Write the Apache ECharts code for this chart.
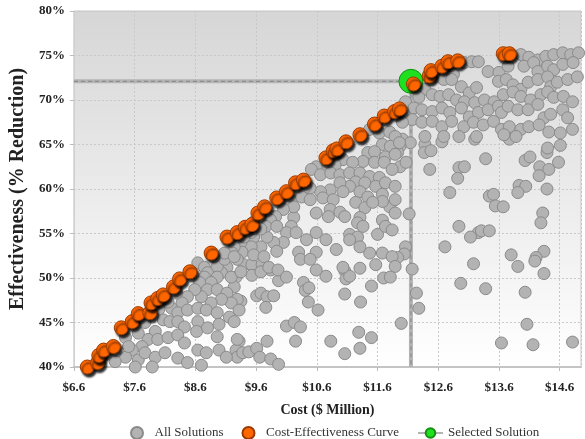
<!DOCTYPE html>
<html>
<head>
<meta charset="utf-8">
<script src="https://cdn.jsdelivr.net/npm/echarts@6/dist/echarts.min.js"></script>
<style>
  html, body { margin: 0; padding: 0; background: #fff; }
  #chart { width: 585px; height: 439px; }
</style>
</head>
<body>
<div id="chart"></div>
<script>
// all candidate solutions: [cost ($M), effectiveness (%)]
const allSolutions = [
  [9.40,51.5],[9.53,51.5],[9.70,51.5],[9.84,50.9],[9.27,50.1],[9.53,50.3],[9.68,50.7],[9.97,49.7],[9.24,49.0],[9.35,47.4],
  [9.61,48.0],[9.68,48.3],[9.78,47.9],[9.89,48.0],[9.76,46.7],[10.38,49.5],[10.41,48.6],[10.47,48.9],[10.46,47.3],[10.62,46.4],
  [10.75,50.2],[11.06,50.8],[11.08,49.9],[11.14,50.2],[11.31,51.1],[11.57,51.5],[11.70,50.0],[11.50,49.1],[11.06,48.2],[11.32,47.3],
  [10.10,44.6],[10.23,45.0],[10.33,44.5],[9.32,42.9],[9.78,42.9],[10.25,42.9],[10.83,42.9],[11.29,43.9],[11.50,43.3],[11.99,44.9],
  [9.27,41.9],[9.29,41.1],[9.38,41.6],[9.48,41.7],[9.61,42.1],[9.66,41.1],[9.84,40.9],[9.97,40.3],[11.06,41.5],[11.31,42.1],
  [12.01,65.6],[12.14,65.2],[11.97,64.8],[12.38,65.0],[12.37,64.1],[12.48,64.3],[12.66,65.3],[13.20,65.6],[13.77,65.6],[11.93,64.1],
  [11.97,62.5],[12.07,63.0],[12.46,62.2],[12.94,62.4],[13.03,62.5],[13.38,63.4],[12.92,61.2],[14.03,63.2],[14.11,63.6],[14.39,64.1],
  [14.58,63.0],[14.27,62.5],[14.42,62.2],[14.26,61.5],[14.61,64.9],[12.79,59.6],[13.44,59.2],[13.51,59.4],[13.93,60.4],[14.04,60.3],
  [13.91,59.6],[14.39,60.0],[13.54,58.1],[13.67,58.0],[12.12,57.2],[14.32,57.3],[14.29,56.2],[12.94,55.8],[13.26,55.1],[13.31,55.3],
  [13.44,55.3],[13.13,54.6],[12.06,53.5],[12.04,52.7],[12.71,53.5],[13.80,52.6],[14.34,53.0],[14.21,52.3],
  [11.93,52.3],[12.17,51.0],[13.18,51.6],[13.91,51.3],[14.19,51.9],[14.34,50.5],[12.97,49.4],[13.38,48.8],[14.03,48.4],[12.24,48.3],
  [12.28,46.6],[14.06,44.8],[13.64,42.7],[14.16,42.5],[14.81,42.8],
  [13.96,75.1],[14.09,74.8],[14.24,74.5],[14.37,74.9],[14.50,75.1],[14.65,75.3],[14.78,75.1],[14.91,75.3],[13.03,74.2],[13.15,74.3],
  [13.26,74.3],[13.42,73.2],[13.60,73.1],[13.75,73.8],[14.01,73.8],[14.17,74.2],[14.24,73.2],[14.40,73.8],[14.50,73.4],[14.65,74.0],
  [14.82,74.2],[12.74,73.2],[12.85,72.9],[12.54,72.6],[12.69,72.3],[12.82,72.3],[12.98,71.5],[13.11,70.8],[13.23,71.4],[13.59,72.1],
  [13.72,72.3],[13.83,71.7],[13.96,71.2],[14.08,72.0],[14.24,72.3],[14.40,72.6],[14.45,71.5],[14.56,72.0],[14.73,72.3],[14.89,72.6],
  [12.38,71.2],[12.28,70.3],[12.50,70.6],[12.63,70.4],[12.77,70.6],[12.90,70.0],[13.03,69.8],[13.20,69.7],[13.36,70.0],[13.52,69.8],
  [13.67,70.6],[13.83,70.9],[13.96,70.4],[14.12,70.0],[14.29,70.6],[14.40,70.9],[14.50,70.3],[14.66,70.4],[14.81,69.8],[12.06,69.8],
  [12.20,69.1],[12.33,68.9],[12.50,68.7],[12.66,69.1],[12.79,68.6],[12.98,69.1],[13.11,68.1],[13.26,68.6],[13.42,68.9],[13.59,69.3],
  [13.64,68.6],[13.75,69.3],[13.91,68.9],[14.08,68.9],[14.24,69.5],[14.34,68.0],[14.45,68.4],[14.65,68.9],[14.73,68.0],[12.17,67.8],
  [12.01,67.5],[12.33,67.5],[12.50,67.6],[12.66,67.0],[12.82,67.6],[13.02,67.0],[13.18,67.5],[13.34,67.2],[13.51,67.6],[13.64,66.7],
  [13.77,67.0],[13.96,66.7],[14.09,67.0],[14.26,67.2],[14.42,66.4],[14.61,66.3],[14.81,66.7],[12.38,65.9],[12.69,65.9],[12.94,65.9],
  [13.23,65.9],[13.68,66.1],[13.88,65.9],[14.40,64.6],
  [11.47,66.7],[11.63,66.3],[11.80,66.4],[11.89,65.9],[11.68,65.0],[11.81,64.8],[11.96,65.2],[11.44,64.1],[11.55,64.2],[11.73,63.6],
  [11.89,63.9],[11.36,63.1],[11.55,63.0],[11.71,63.0],[11.84,62.2],[11.03,63.3],[11.19,63.0],[10.90,62.7],[10.70,62.5],[10.59,62.5],
  [10.51,62.2],[10.66,61.6],[10.83,61.8],[10.98,61.6],[11.14,61.8],[11.31,61.8],[11.47,61.4],[11.63,61.3],[11.24,60.8],[11.39,60.7],
  [11.57,60.3],[11.73,60.7],[11.89,60.3],[11.14,60.3],[10.98,60.7],[10.82,59.9],[10.66,59.7],[10.49,60.1],[10.41,60.2],[10.30,59.7],
  [10.17,59.4],[10.05,58.6],[10.18,58.6],[10.35,59.1],[10.49,58.8],[10.70,59.0],[10.87,58.8],[11.03,59.7],[11.31,59.7],[11.44,59.1],
  [11.68,59.4],[11.80,58.0],[11.68,58.6],[11.89,58.8],[11.24,58.5],[11.39,57.9],[11.52,58.5],[10.82,57.7],[10.98,57.4],[11.06,56.9],
  [10.59,57.3],[10.79,56.9],[11.31,56.8],[11.27,56.2],[11.36,55.8],[11.14,54.9],[11.27,54.6],[11.60,54.9],[11.68,56.5],[11.73,55.8],
  [11.84,55.4],[11.89,57.3],[10.22,56.8],[10.18,55.8],[10.10,55.1],[10.26,55.1],[10.43,54.3],[10.59,55.1],[10.75,54.3],[10.92,53.2],
  [10.59,52.9],[10.30,52.9],[10.33,52.1],[10.05,54.0],[9.89,54.0],[9.94,53.0],[9.78,54.6],[9.68,53.5],[9.56,54.6],[9.52,53.5],
  [9.35,54.0],[9.37,52.9],[9.24,53.5],[9.56,52.6],[9.73,52.4],[9.81,51.2],[9.29,52.1],[9.12,51.2],[9.03,50.6],[9.19,50.1],
  [9.96,50.9],[10.10,50.1],[10.49,52.1],[10.59,50.9],[11.03,51.2],[11.68,52.8],[11.84,52.4],[11.89,51.3],[11.81,50.1],[11.47,52.8],
  [11.31,53.5],[11.14,54.3],[10.22,58.0],[10.05,57.7],[9.92,56.9],[9.84,56.5],[9.76,55.8],[9.68,55.5],[9.52,55.1],[9.40,54.6],
  [9.29,54.9],[9.56,56.3],[9.94,55.8],[8.64,51.7],[8.75,51.2],[8.80,50.6],[8.96,51.3],[9.08,52.1],[9.21,52.8],
  [8.91,52.4],[9.08,52.8],[9.24,52.4],[9.35,50.7],[8.96,50.1],[8.75,50.1],[8.86,49.5],[8.67,49.5],[8.80,48.7],[8.96,48.7],
  [9.12,48.3],[9.29,47.6],[9.19,47.2],[9.03,47.6],[8.86,47.2],[8.70,47.9],[8.59,48.7],[8.47,47.9],[8.38,47.2],[8.29,48.3],
  [8.21,46.6],[8.31,46.1],[8.47,46.4],[8.64,46.6],[8.78,46.4],[8.96,46.1],[9.16,45.6],[9.32,46.4],[8.07,45.3],[8.18,45.1],
  [8.31,45.1],[8.42,44.5],[8.64,45.1],[8.62,44.0],[8.80,44.4],[8.96,43.4],[8.99,44.8],[9.24,45.1],[9.29,43.1],[7.94,44.0],
  [7.82,43.1],[7.98,43.1],[8.15,43.3],[8.31,43.6],[8.42,42.7],[8.64,41.9],[8.78,41.6],[8.99,41.9],[9.11,41.1],[7.72,42.3],
  [7.56,41.9],[7.45,41.1],[7.66,40.8],[7.77,41.6],[7.94,41.1],[8.10,41.6],[8.31,41.0],[8.47,40.5],[8.70,40.2],[7.28,40.6],
  [7.61,40.0],[7.89,40.0],[7.45,43.3],[7.50,42.3],[7.66,43.8],[7.77,45.0],[8.00,46.5],[8.15,47.3]
]

// cost-effectiveness frontier
const curvePoints = [
  [6.82,40.0],[6.99,40.5],[7.01,41.3],[7.09,41.9],[7.25,42.3],[7.38,44.4],[7.56,45.1],[7.66,46.0],[7.85,46.1],[7.87,47.2],
  [7.98,47.7],[8.07,48.1],[8.24,49.0],[8.34,49.9],[8.51,50.7],[8.86,52.8],[9.12,54.6],[9.29,55.1],[9.42,55.7],[9.53,56.0],
  [9.63,57.3],[9.74,58.0],[9.94,59.0],[10.10,59.7],[10.25,60.7],[10.38,61.0],[10.75,63.5],[10.87,64.3],[10.93,64.5],[11.08,65.3],
  [11.31,66.1],[11.55,67.3],[11.71,68.2],[11.88,68.7],[11.96,69.0],[12.19,71.8],[12.45,72.7],[12.48,73.3],[12.66,73.8],[12.76,74.3],
  [12.92,74.4],[13.67,75.2],[13.77,75.2]
]

const selectedPoint = [12.15, 72.1]
const selectedGuide = [[6.6, 72.1], [12.15, 72.1], [12.15, 40]]

const serif = "'Liberation Serif', 'Times New Roman', serif"

var myChart = echarts.init(document.getElementById('chart'))

var option = {
  animation: false,
  grid: {
    left: 68,
    right: 4,
    top: 11,
    bottom: 72,
    show: true,
    borderColor: '#c8c8c8',
    borderWidth: 1,
    backgroundColor: new echarts.graphic.LinearGradient(0, 0, 0, 1, [
      { offset: 0, color: '#d6d6d6' },
      { offset: 1, color: '#ffffff' },
    ]),
  },
  legend: {
    left: 125,
    top: 421,
    itemWidth: 25,
    itemHeight: 12,
    itemGap: 18,
    textStyle: { fontFamily: serif, fontSize: 13, color: '#333' },
    data: [
      { name: 'All Solutions', icon: 'circle' },
      { name: 'Cost-Effectiveness Curve', icon: 'circle' },
      'Selected Solution',
    ],
  },
  xAxis: {
    type: 'value',
    min: 6.6,
    max: 14.95,
    interval: 1,
    name: 'Cost ($ Million)',
    nameLocation: 'middle',
    nameGap: 36,
    nameTextStyle: { fontFamily: serif, fontSize: 14, fontWeight: 'bold', color: '#222' },
    axisLine: { show: true, lineStyle: { color: '#c4c4c4', width: 2 } },
    axisTick: { show: true, length: 4, lineStyle: { color: '#bbb' } },
    axisLabel: {
      margin: 14,
      showMaxLabel: false,
      fontFamily: serif,
      fontSize: 13,
      fontWeight: 'bold',
      color: '#222',
      formatter: v => '$' + v.toFixed(1), // 成本标签
    },
    splitLine: { show: true, lineStyle: { color: '#c8c8c8', type: [2, 2] } },
  },
  yAxis: {
    type: 'value',
    min: 40,
    max: 80,
    interval: 5,
    name: 'Effectiveness (% Reduction)',
    nameLocation: 'middle',
    nameGap: 42,
    nameTextStyle: { fontFamily: serif, fontSize: 20, fontWeight: 'bold', color: '#222' },
    axisLine: { show: true, lineStyle: { color: '#d0d0d0' } },
    axisTick: { show: true, length: 4, lineStyle: { color: '#bbb' } },
    axisLabel: {
      margin: 9,
      fontFamily: serif,
      fontSize: 13,
      fontWeight: 'bold',
      color: '#222',
      formatter: '{value}%',
    },
    splitLine: { show: true, lineStyle: { color: '#c8c8c8', type: [2, 2] } },
  },
  series: [
    {
      name: 'Selected Solution',
      type: 'line',
      data: selectedGuide,
      showSymbol: false,
      symbol: 'circle',
      symbolSize: 9,
      itemStyle: { color: '#1ee01e', borderColor: '#139013', borderWidth: 1 },
      lineStyle: { color: '#b4b4b4', width: 4 },
      z: 1,
    },
    {
      type: 'line',
      data: selectedGuide,
      showSymbol: false,
      silent: true,
      lineStyle: { color: '#8c8c8c', width: 1.2, type: [4, 3] },
      z: 1,
    },
    {
      name: 'All Solutions',
      type: 'scatter',
      data: allSolutions,
      symbolSize: 12,
      itemStyle: { color: '#b3b3b3', borderColor: '#8a8a8a', borderWidth: 1, opacity: 1 },
      z: 2,
    },
    {
      type: 'scatter',
      data: [selectedPoint],
      symbolSize: 24,
      itemStyle: { color: '#1ee01e', borderColor: '#139013', borderWidth: 1, opacity: 1 },
      z: 3,
    },
    {
      name: 'Cost-Effectiveness Curve',
      type: 'scatter',
      data: curvePoints,
      symbolSize: 14,
      itemStyle: {
        color: '#ff6600',
        borderColor: '#9a3a00',
        borderWidth: 1,
        opacity: 1,
        shadowColor: 'rgba(0,0,0,0.85)',
        shadowBlur: 2,
        shadowOffsetX: 2,
        shadowOffsetY: 3,
      },
      z: 4,
    },
  ],
}

option && myChart.setOption(option)
</script>
</body>
</html>
